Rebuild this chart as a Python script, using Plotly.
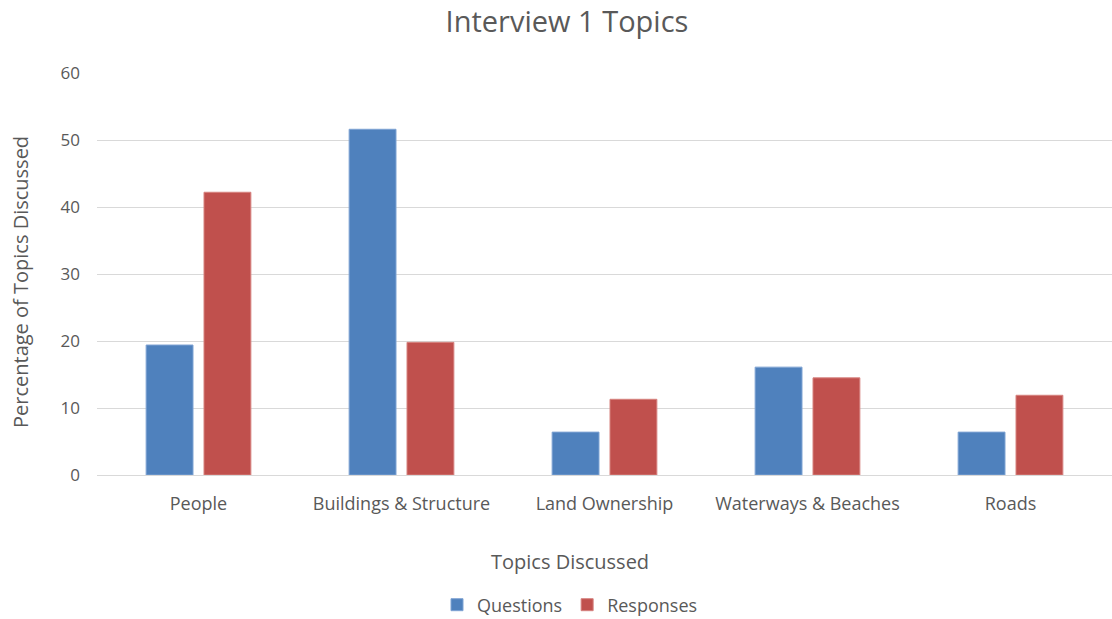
import plotly.graph_objects as go

topics = ["People", "Buildings & Structure", "Land Ownership", "Waterways & Beaches", "Roads"]
questions = [19.4, 51.6, 6.4, 16.1, 6.4]
responses = [42.2, 19.8, 11.3, 14.5, 11.9]

grey = "#595959"
font = "Open Sans, Liberation Sans, sans-serif"

fig = go.Figure()
fig.add_trace(go.Bar(x=topics, y=questions, name="Questions",
                     marker=dict(color="#4F81BD", line=dict(color="#7FA3D3", width=1))))
fig.add_trace(go.Bar(x=topics, y=responses, name="Responses",
                     marker=dict(color="#C0504D", line=dict(color="#D6827F", width=1))))

fig.update_layout(
    width=1112, height=619,
    margin=dict(l=97, r=0, t=73, b=144),
    plot_bgcolor="white", paper_bgcolor="white",
    font=dict(family=font, color=grey, size=17),
    barmode="group", bargap=0.43, bargroupgap=0.19,
    title=dict(text="Interview 1 Topics", x=567 / 1112, xref="container", xanchor="center",
               y=1 - 22 / 619, yref="container", yanchor="middle",
               font=dict(size=29, color=grey)),
    legend=dict(orientation="h", xref="container", x=570 / 1112, xanchor="center",
                yref="container", y=1 - 605 / 619, yanchor="middle",
                font=dict(size=18, color=grey), itemwidth=30),
    showlegend=True,
)
fig.update_yaxes(range=[0, 60], dtick=10, showgrid=True, gridcolor="#D9D9D9", gridwidth=1,
                 zeroline=True, zerolinecolor="#D9D9D9", zerolinewidth=1,
                 ticks="", ticklabelstandoff=16, tickfont=dict(size=17, color=grey))
fig.update_xaxes(showline=False, ticks="", ticklabelstandoff=16, tickfont=dict(size=18, color=grey))

fig.add_annotation(text="Topics Discussed", xref="paper", yref="paper",
                   x=(570 - 97) / 1015, y=-(561 - 475) / 402, xanchor="center", yanchor="middle",
                   showarrow=False, font=dict(size=20, color=grey))
fig.add_annotation(text="Percentage of Topics Discussed", xref="paper", yref="paper",
                   x=(20 - 97) / 1015, y=(475 - 282) / 402, xanchor="center", yanchor="middle",
                   textangle=-90, showarrow=False, font=dict(size=20, color=grey))

fig.write_html("out.html", config={"displayModeBar": False},
               post_script="document.body.style.margin='0';")
